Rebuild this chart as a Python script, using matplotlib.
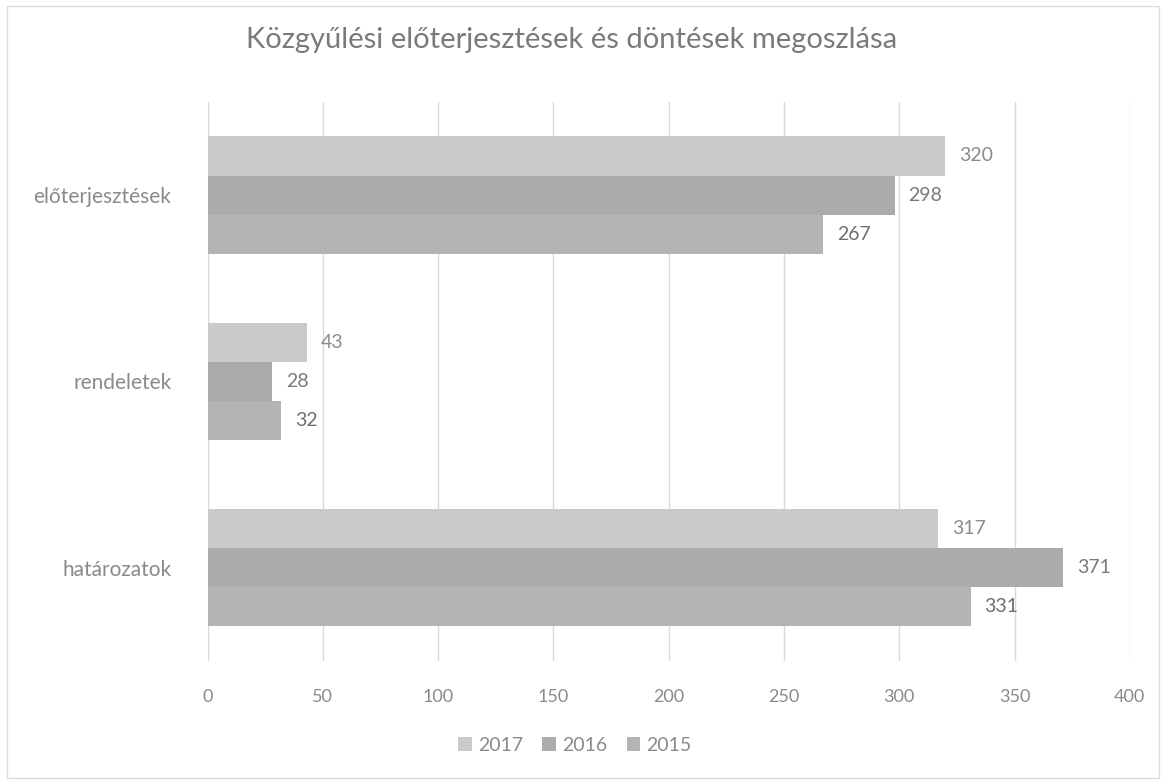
import matplotlib
matplotlib.use("Agg")
import matplotlib.pyplot as plt
import numpy as np

categories = ["előterjesztések", "rendeletek", "határozatok"]
years = ["2017", "2016", "2015"]
values_2017 = [320, 43, 317]
values_2016 = [298, 28, 371]
values_2015 = [267, 32, 331]
x_ticks = [0, 50, 100, 150, 200, 250, 300, 350, 400]

series = [values_2017, values_2016, values_2015]
colors = ["#cacaca", "#ababab", "#b4b4b4"]
label_colors = ["#8c8c8c", "#7a7a7a", "#6e6e6e"]
text_gray = "#8a8a8a"

plt.rcParams["font.family"] = ["Lato", "DejaVu Sans"]

fig = plt.figure(figsize=(11.66, 7.84), dpi=100)
ax = fig.add_axes([0.178, 0.157, 0.791, 0.713])

y = np.arange(len(categories))
h = 0.21
for i, (vals, col) in enumerate(zip(series, colors)):
    pos = y + (i - 1) * h
    ax.barh(pos, vals, height=h, color=col, label=years[i], zorder=2)
    for p, v in zip(pos, vals):
        ax.text(v + 6, p, str(v), va="center", ha="left", fontsize=14,
                color=label_colors[i])

ax.set_ylim(2.5, -0.5)
ax.set_xlim(0, 400)
ax.set_xticks(x_ticks)
ax.set_yticks(y)
ax.set_yticklabels(categories)
ax.tick_params(axis="both", length=0, colors=text_gray)
ax.tick_params(axis="x", pad=20, labelsize=13)
ax.tick_params(axis="y", pad=26, labelsize=15)
ax.grid(axis="x", color="#d9d9d9", lw=1, zorder=0)
for s in ax.spines.values():
    s.set_visible(False)

fig.text(0.49, 0.949, "Közgyűlési előterjesztések és döntések megoszlása",
         ha="center", va="center", fontsize=21, color="#7a7a7a")

fig.legend(loc="center", bbox_to_anchor=(0.493, 0.049), ncol=3, frameon=False,
           fontsize=14, handlelength=0.7, handleheight=0.7, handletextpad=0.3,
           columnspacing=1.0, labelcolor=text_gray)

fig.patches.append(plt.Rectangle((0.006, 0.008), 0.988, 0.984, transform=fig.transFigure,
                                 fill=False, edgecolor="#dcdcdc", lw=1))

fig.savefig("out.png", dpi=100)
